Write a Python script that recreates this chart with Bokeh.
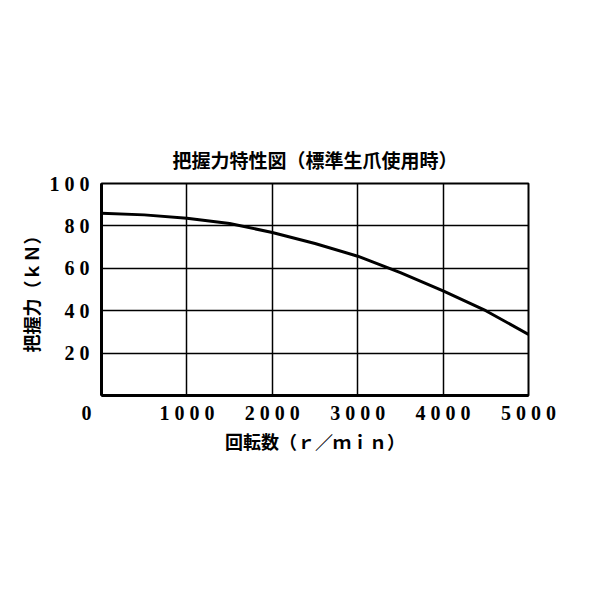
from bokeh.plotting import figure
from bokeh.models import Range1d, FixedTicker
from bokeh.embed import file_html
from bokeh.resources import INLINE

# data
rpm = [0, 500, 1000, 1500, 2000, 2500, 3000, 3500, 4000, 4500, 5000]
force_kn = [86.0, 85.2, 83.6, 81.1, 76.9, 71.7, 65.7, 58.0, 49.4, 40.0, 28.8]

x_ticks = [0, 1000, 2000, 3000, 4000, 5000]
# the origin label sits left of the corner; trailing em/en spaces shift it left
x_tick_labels = ["0\u2003\u2002", "1 0 0 0", "2 0 0 0", "3 0 0 0", "4 0 0 0", "5 0 0 0"]
y_ticks = [20, 40, 60, 80, 100]
y_tick_labels = ["2 0", "4 0", "6 0", "8 0", "1 0 0"]

title_text = "把握力特性図（標準生爪使用時）"
x_label = "回転数（ｒ／ｍｉｎ）"
y_label = "把握力（ｋＮ）"

CJK = "Noto Sans CJK JP"
NUM = "Liberation Serif"

p = figure(frame_width=427, frame_height=212, output_backend="svg", toolbar_location=None,
           x_range=Range1d(0, 5000), y_range=Range1d(0, 100),
           min_border_left=101, min_border_right=60, min_border_top=183, min_border_bottom=180)

p.title.text = title_text
p.title.text_font = CJK
p.title.text_font_size = "19px"
p.title.text_font_style = "bold"
p.title.text_color = "black"
p.title.align = "center"
p.title.standoff = 22

p.line(rpm, force_kn, line_color="black", line_width=3)

p.xaxis.ticker = FixedTicker(ticks=x_ticks)
p.xaxis.major_label_overrides = {t: s for t, s in zip(x_ticks, x_tick_labels)}
p.yaxis.ticker = FixedTicker(ticks=y_ticks)
p.yaxis.major_label_overrides = {t: s for t, s in zip(y_ticks, y_tick_labels)}

for ax in (p.xaxis[0], p.yaxis[0]):
    ax.axis_line_color = "black"
    ax.axis_line_width = 3
    ax.major_tick_line_color = None
    ax.minor_tick_line_color = None
    ax.major_label_text_font = NUM
    ax.major_label_text_font_style = "bold"
    ax.major_label_text_font_size = "20px"
    ax.major_label_text_color = "black"
    ax.axis_label_text_font = CJK
    ax.axis_label_text_font_style = "bold"
    ax.axis_label_text_font_size = "18px"
    ax.axis_label_text_color = "black"

p.xaxis.axis_label = x_label
p.yaxis.axis_label = y_label
p.xaxis.major_label_standoff = 0
p.yaxis.major_label_standoff = 6
p.xaxis.axis_label_standoff = 1
p.yaxis.axis_label_standoff = 3

p.grid.grid_line_color = "black"
p.grid.grid_line_width = 1.5
p.xgrid.ticker = FixedTicker(ticks=x_ticks[1:])
p.ygrid.ticker = FixedTicker(ticks=y_ticks)

p.outline_line_color = "black"
p.outline_line_width = 2
p.background_fill_color = "white"
p.border_fill_color = "white"

open("out.html", "w").write(file_html(p, INLINE))
